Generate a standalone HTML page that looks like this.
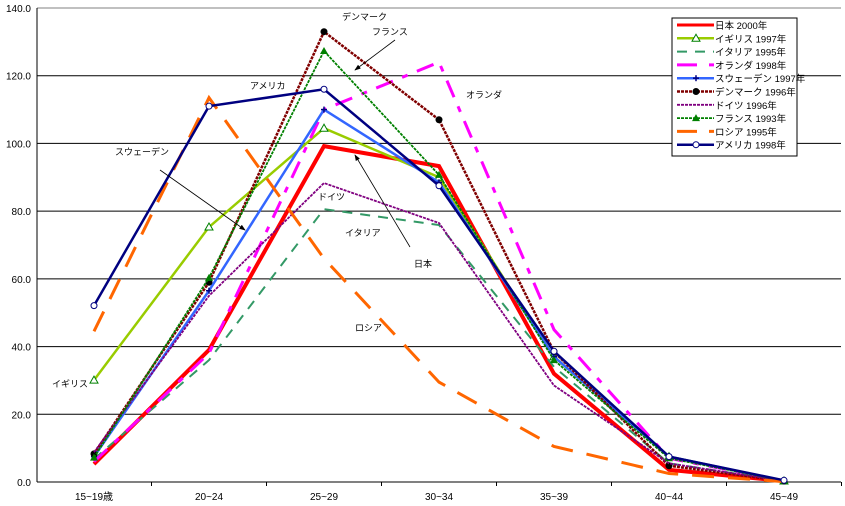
<!DOCTYPE html>
<html><head><meta charset="utf-8"><style>
html,body{margin:0;padding:0;background:#fff;}
svg{display:block;font-family:"Liberation Sans","Noto Sans CJK JP",sans-serif;}
</style></head><body>
<svg id="chart" width="845" height="506"></svg>
<script>
const categories=["15~19歳","20~24","25~29","30~34","35~39","40~44","45~49"];
const yTicks=[0,20,40,60,80,100,120,140];
const seriesNames=["日本 2000年","イギリス 1997年","イタリア 1995年","オランダ 1998年","スウェーデン 1997年","デンマーク 1996年","ドイツ 1996年","フランス 1993年","ロシア 1995年","アメリカ 1998年"];
const japan=[5.3,39,99.2,93.3,32,3.6,0.3];
const uk=[30.1,75.3,104.5,90,37,7.5,0.3];
const italy=[6.8,36,80.6,75.9,34,5.5,0.3];
const netherlands=[6,38,110,124,45,7,0.4];
const sweden=[7.5,56.5,110,88.5,37,7.5,0.3];
const denmark=[8.3,59,133,107,38.5,4.8,0.3];
const germany=[8.8,55,88.3,76.5,28.5,5.5,0.3];
const france=[7.2,60.3,127.3,90.7,36,7,0.4];
const russia=[44.5,113.5,66,29.5,10.5,2.5,0.1];
const usa=[52.1,111,116,87.5,38.6,7.5,0.5];
const seriesData=[japan,uk,italy,netherlands,sweden,denmark,germany,france,russia,usa];
const styles=[
 {c:"#ff0000",w:4,d:"",m:""},
 {c:"#99cc00",w:2.5,d:"",m:"tri"},
 {c:"#339966",w:2,d:"10,8",m:""},
 {c:"#ff00ff",w:3,d:"18,10,6,10",m:""},
 {c:"#3366ff",w:2.5,d:"",m:"plus"},
 {c:"#800000",w:2.5,d:"3,1",m:"dot"},
 {c:"#800080",w:1.8,d:"3,1",m:""},
 {c:"#008000",w:1.8,d:"3,1",m:"trifill"},
 {c:"#ff6600",w:3,d:"22,14",m:""},
 {c:"#000080",w:2.5,d:"",m:"circ"}];
const NS="http://www.w3.org/2000/svg";
const svg=document.getElementById('chart');
const X0=37,X1=841,Y0=482,Y1=8;
function xs(i){return 94+i*115;}
function ys(v){return Y0-(v/140)*(Y0-Y1);}
function el(t,a,p){const e=document.createElementNS(NS,t);for(const k in a)e.setAttribute(k,a[k]);(p||svg).appendChild(e);return e;}
yTicks.forEach(t=>{
 const g=el('line',{x1:X0,x2:X1,y1:ys(t),y2:ys(t),stroke:t==140?"#808080":"#000","stroke-width":1});
 
 
 const tx=el('text',{x:31,y:ys(t)+4,"text-anchor":"end","font-size":10});
 tx.textContent=t.toFixed(1);
 
 
});
const ax=el('line',{x1:X0,x2:X0,y1:Y1,y2:Y0,stroke:"#000"});


categories.forEach((c,i)=>{
 const tk=el('line',{x1:xs(i)+57.5,x2:xs(i)+57.5,y1:Y0,y2:Y0+4,stroke:"#000"});
 
 
 const t=el('text',{x:xs(i),y:500,"text-anchor":"middle","font-size":10});
 t.textContent=c;
 
 
});
function marker(m,x,y,c,g){
 if(m=="tri")el('polygon',{points:`${x},${y-4} ${x-4},${y+3} ${x+4},${y+3}`,fill:"#fff",stroke:"#008000"},g);
 if(m=="trifill")el('polygon',{points:`${x},${y-4} ${x-4},${y+3} ${x+4},${y+3}`,fill:"#008000"},g);
 if(m=="plus"){el('line',{x1:x-3,x2:x+3,y1:y,y2:y,stroke:"#000080","stroke-width":1.5},g);el('line',{x1:x,x2:x,y1:y-3,y2:y+3,stroke:"#000080","stroke-width":1.5},g);}
 if(m=="dot")el('circle',{cx:x,cy:y,r:3.5,fill:"#000"},g);
 if(m=="circ")el('circle',{cx:x,cy:y,r:3,fill:"#fff",stroke:"#000080","stroke-width":1},g);
}
seriesData.forEach((d,si)=>{
 const s=styles[si];
 const g=el('g',{});
 
 
 el('polyline',{points:d.map((v,i)=>xs(i)+","+ys(v)).join(" "),fill:"none",stroke:s.c,"stroke-width":s.w,"stroke-dasharray":s.d,"stroke-linejoin":"miter"},g);
 d.forEach((v,i)=>marker(s.m,xs(i),ys(v),s.c,g));
});
const notes=[["デンマーク",342,20],["フランス",372,35],["アメリカ",250,89],["オランダ",466,98],["スウェーデン",115,155],["ドイツ",318,200],["イタリア",345,236],["日本",414,267],["ロシア",355,331],["イギリス",52,387]];
notes.forEach(n=>{const t=el('text',{x:n[1],y:n[2],"font-size":9});t.textContent=n[0];
 
 });
el('defs',{}).innerHTML='<marker id="ar" markerWidth="8" markerHeight="8" refX="7" refY="4" orient="auto"><path d="M0,1 L8,4 L0,7z" fill="#000"/></marker>';
[[395,40,355,70],[160,170,245,230],[410,247,355,155]].forEach(a=>{
 const l=el('line',{x1:a[0],y1:a[1],x2:a[2],y2:a[3],stroke:"#000","stroke-width":0.8,"marker-end":"url(#ar)"});
 
 
});
const lg=el('g',{});


el('rect',{x:672,y:18,width:125,height:138,fill:"#fff",stroke:"#000"},lg);
seriesNames.forEach((n,i)=>{
 const s=styles[i];const y=25+i*13.3;
 const e=el('g',{},lg);
 
 
 el('line',{x1:677,x2:714,y1:y,y2:y,stroke:s.c,"stroke-width":Math.min(s.w,3),"stroke-dasharray":s.d.length>4?"20,12":s.d},e);
 marker(s.m,696,y,s.c,e);
 const t=el('text',{x:715,y:y+4,"font-size":9.5});t.textContent=n;
});
</script>
</body></html>
